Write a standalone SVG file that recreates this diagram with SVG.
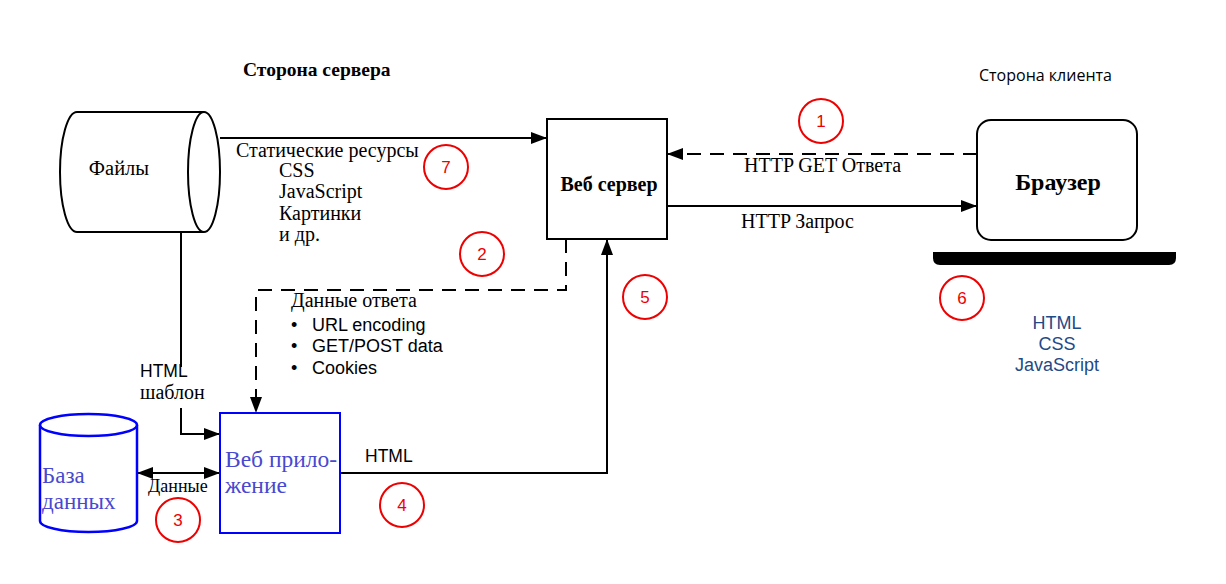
<svg xmlns="http://www.w3.org/2000/svg" width="1226" height="584" viewBox="0 0 1226 584">
<style>
.ln{fill:none;stroke:#000;stroke-width:2}
.dash{fill:none;stroke:#000;stroke-width:2;stroke-dasharray:14,9}
.serif{font-family:"Liberation Serif","Times New Roman",serif;fill:#000}
.sans{font-family:"Liberation Sans",Arial,sans-serif;fill:#000}
.num circle{fill:none;stroke:#e00;stroke-width:2}
.num text{font-family:"Liberation Sans",Arial,sans-serif;font-size:17px;fill:#e00;text-anchor:middle}
.blue{fill:#4848d0}
</style>
<defs>
<marker id="arr" viewBox="0 0 16 12" refX="16" refY="6" markerWidth="16" markerHeight="12" markerUnits="userSpaceOnUse" orient="auto-start-reverse">
<path d="M0,0 L16,6 L0,12 z" fill="#000"/>
</marker>
</defs>
<rect width="1226" height="584" fill="#fff"/>

<text class="serif" x="243" y="76" font-size="19.5" font-weight="bold">Сторона сервера</text>
<text x="979" y="81" font-size="16" style="font-family:'Open Sans','Noto Sans',sans-serif;fill:#000">Сторона клиента</text>

<g id="connectors">
<path class="ln" d="M220,138 H547" marker-end="url(#arr)"/>
<path class="dash" d="M977,154 H667" marker-end="url(#arr)"/>
<path class="ln" d="M667,206 H977" marker-end="url(#arr)"/>
<path class="dash" d="M566,239 V290 H256 V413" marker-end="url(#arr)"/>
<path class="ln" d="M340,473 H607 V239" marker-end="url(#arr)"/>
<path class="ln" d="M181,232 V367"/>
<path class="ln" d="M181,408 V434 H220" marker-end="url(#arr)"/>
<path class="ln" d="M137,473 H220" marker-start="url(#arr)" marker-end="url(#arr)"/>
<text class="serif" x="744" y="172" font-size="20">HTTP GET Ответа</text>
<text class="serif" x="741" y="228" font-size="20">HTTP Запрос</text>
<text class="sans" x="365" y="462" font-size="17.5">HTML</text>
<text class="sans" x="140" y="377" font-size="17.5">HTML</text>
<text class="serif" x="140" y="399" font-size="20">шаблон</text>
<text class="serif" x="148" y="492" font-size="18">Данные</text>
<text class="serif" x="236" y="157" font-size="20">Статические ресурсы</text>
<text class="serif" x="279" y="177" font-size="20">CSS</text>
<text class="serif" x="279" y="198" font-size="20">JavaScript</text>
<text class="serif" x="279" y="220" font-size="20">Картинки</text>
<text class="serif" x="279" y="241" font-size="20">и др.</text>
<text class="serif" x="291" y="307" font-size="20">Данные ответа</text>
<g class="sans" font-size="18">
<text x="291" y="331">•</text><text x="312" y="331">URL encoding</text>
<text x="291" y="352">•</text><text x="312" y="352">GET/POST data</text>
<text x="291" y="374">•</text><text x="312" y="374">Cookies</text>
</g>
</g>

<g id="files">
<path class="ln" d="M77,112 H204 M204,232 H77 A17,60 0 0 1 77,112"/>
<ellipse cx="204" cy="172" rx="16" ry="60" fill="#fff" stroke="#000" stroke-width="2"/>
<text class="serif" x="119" y="175" font-size="20.5" text-anchor="middle">Файлы</text>
</g>

<g id="webserver">
<rect x="547" y="119" width="120" height="120" fill="#fff" stroke="#000" stroke-width="2"/>
<text class="serif" x="609" y="191" font-size="20" font-weight="bold" text-anchor="middle">Веб сервер</text>
</g>

<g id="browser">
<rect x="977" y="120" width="160" height="120" rx="14" fill="#fff" stroke="#000" stroke-width="2"/>
<text class="serif" x="1058" y="190" font-size="24" font-weight="bold" text-anchor="middle">Браузер</text>
<path d="M933,252 H1176 V258 Q1176,265 1169,265 H940 Q933,265 933,258 Z" fill="#000"/>
<g font-size="18" text-anchor="middle" style="font-family:'Liberation Sans',Arial,sans-serif;fill:#1f4a86">
<text x="1057" y="329">HTML</text>
<text x="1057" y="350">CSS</text>
<text x="1057" y="371">JavaScript</text>
</g>
</g>

<g id="webapp">
<rect x="220" y="413" width="120" height="120" fill="#fff" stroke="#00f" stroke-width="2"/>
<text class="serif blue" x="225" y="467" font-size="23.5">Веб прило-</text>
<text class="serif blue" x="225" y="493" font-size="23.5">жение</text>
</g>

<g id="database">
<path d="M40,425 V521 A48.5,11 0 0 0 137,521 V425" fill="#fff" stroke="#00f" stroke-width="2.5"/>
<ellipse cx="88.5" cy="425" rx="48.5" ry="11" fill="#fff" stroke="#00f" stroke-width="2.5"/>
<text class="serif blue" x="42" y="483" font-size="23">База</text>
<text class="serif blue" x="42" y="509" font-size="23">данных</text>
</g>

<g id="markers" class="num">
<g><circle cx="821" cy="121" r="22"/><text x="821" y="127">1</text></g>
<g><circle cx="482" cy="254" r="22"/><text x="482" y="260">2</text></g>
<g><circle cx="178" cy="520" r="22"/><text x="178" y="526">3</text></g>
<g><circle cx="402" cy="505" r="22"/><text x="402" y="511">4</text></g>
<g><circle cx="645" cy="297" r="22"/><text x="645" y="303">5</text></g>
<g><circle cx="962" cy="298" r="22"/><text x="962" y="304">6</text></g>
<g><circle cx="446" cy="167" r="22"/><text x="446" y="173">7</text></g>
</g>
</svg>
